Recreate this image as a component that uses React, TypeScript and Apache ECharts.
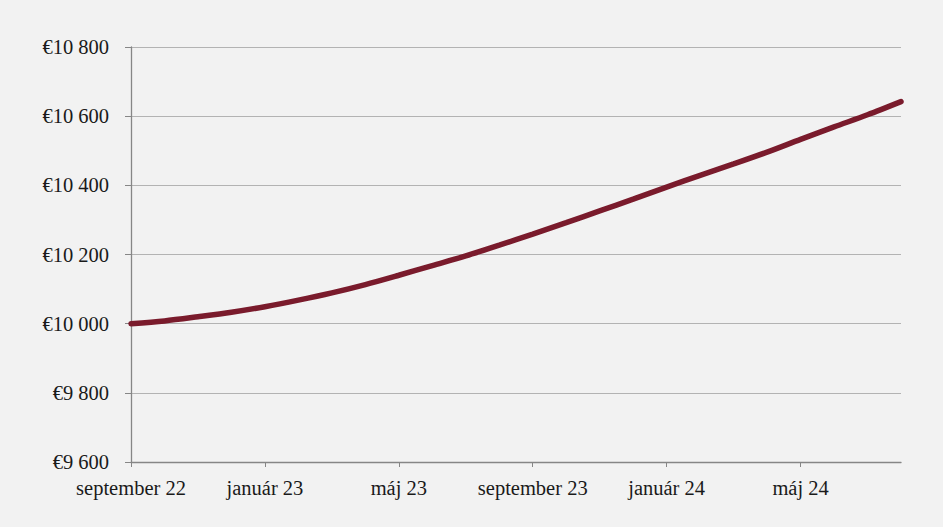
import React, { useEffect, useRef } from "react";
import * as echarts from "echarts";

const months = [
  "september 22", "október 22", "november 22", "december 22",
  "január 23", "február 23", "marec 23", "apríl 23",
  "máj 23", "jún 23", "júl 23", "august 23",
  "september 23", "október 23", "november 23", "december 23",
  "január 24", "február 24", "marec 24", "apríl 24",
  "máj 24", "jún 24", "júl 24", "august 24",
];

const values = [
  10000, 10008, 10020, 10033,
  10049, 10068, 10089, 10113,
  10140, 10168, 10196, 10227,
  10259, 10292, 10326, 10360,
  10395, 10429, 10462, 10496,
  10533, 10569, 10604, 10642,
];

const yMin = 9600;
const yMax = 10800;
const yStep = 200;

const fmtEuro = (v: number) => {
  const s = String(Math.round(v));
  return "€" + s.replace(/\B(?=(\d{3})+(?!\d))/g, " ");
};

export default function App() {
  const ref = useRef<HTMLDivElement>(null);
  useEffect(() => {
    if (!ref.current) return;
    const chart = echarts.init(ref.current, undefined, { renderer: "svg" });
    const font = "'Liberation Serif', 'DejaVu Serif', serif";
    chart.setOption({
      animation: false,
      backgroundColor: "#f2f2f2",
      grid: { left: 131, right: 42, top: 47, bottom: 65 },
      xAxis: {
        type: "category",
        data: months,
        boundaryGap: false,
        axisLine: { lineStyle: { color: "#868686", width: 1.3 } },
        axisTick: { interval: 3, length: 5, lineStyle: { color: "#868686" } },
        axisLabel: {
          interval: 3,
          color: "#1a1a1a",
          fontFamily: font,
          fontSize: 20.5,
          margin: 15,
        },
        splitLine: { show: false },
      },
      yAxis: {
        type: "value",
        min: yMin,
        max: yMax,
        interval: yStep,
        axisLine: { show: true, lineStyle: { color: "#868686", width: 1.3 } },
        axisTick: { show: true, length: 6, lineStyle: { color: "#868686" } },
        axisLabel: {
          formatter: fmtEuro,
          color: "#1a1a1a",
          fontFamily: font,
          fontSize: 20.5,
          margin: 22,
        },
        splitLine: { lineStyle: { color: "#b3b3b3", width: 1 } },
      },
      series: [
        {
          type: "line",
          data: values,
          showSymbol: false,
          smooth: 0.3,
          lineStyle: { color: "#7a1b2c", width: 5.5, cap: "round" },
        },
      ],
    });
    return () => chart.dispose();
  }, []);
  return (
    <div
      ref={ref}
      style={{ position: "absolute", left: 0, top: 0, width: 943, height: 527 }}
    />
  );
}
